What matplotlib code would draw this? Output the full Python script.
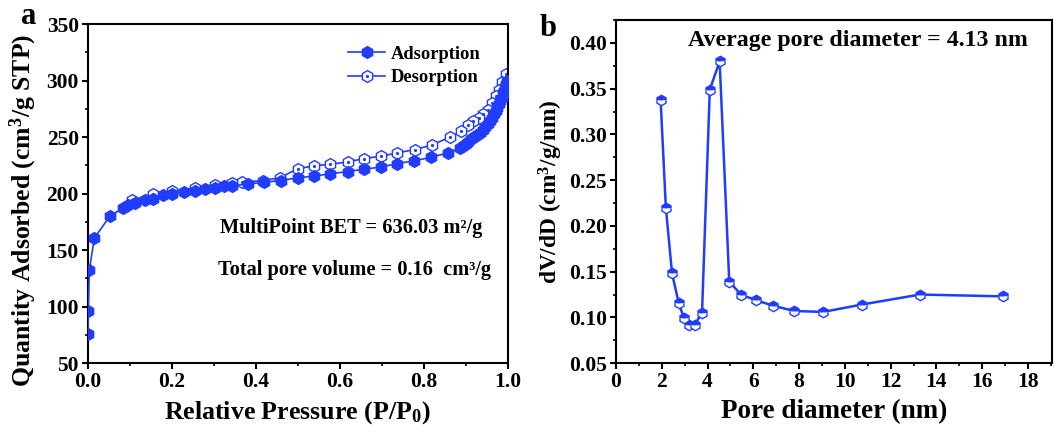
import numpy as np
import matplotlib
matplotlib.use("Agg")
import matplotlib.pyplot as plt
from matplotlib.ticker import MultipleLocator

plt.rcParams['font.family'] = ['Liberation Serif', 'DejaVu Serif']
plt.rcParams['font.weight'] = 'bold'
plt.rcParams['mathtext.fontset'] = 'custom'
plt.rcParams['mathtext.rm'] = 'Liberation Serif:bold'
plt.rcParams['mathtext.bf'] = 'Liberation Serif:bold'
plt.rcParams['mathtext.it'] = 'Liberation Serif:bold:italic'

BLUE = '#1f3cff'

# isotherm (panel a)
ads_p = [0.0, 0.001, 0.003, 0.015, 0.052, 0.084, 0.095, 0.112, 0.137, 0.155, 0.179,
         0.200, 0.228, 0.254, 0.278, 0.302, 0.324, 0.344, 0.381, 0.420, 0.459, 0.500,
         0.538, 0.578, 0.619, 0.658, 0.698, 0.737, 0.777, 0.817, 0.857,
         0.886, 0.893, 0.900, 0.907, 0.914, 0.921, 0.928, 0.935, 0.941, 0.947, 0.953,
         0.958, 0.963, 0.968, 0.972, 0.976, 0.980, 0.983, 0.986, 0.989, 0.992, 0.994,
         0.996, 0.998]
ads_q = [76, 96, 132, 160.5, 180, 187.5, 189.5, 191.5, 194.5, 195.5, 198.5,
         200, 201.5, 202.5, 204, 205, 206.5, 207, 208.5, 210, 211.5, 214,
         215.5, 217.5, 219.5, 221.5, 223.5, 226.5, 229, 232, 236,
         240, 242, 244, 246, 248, 250, 252, 254, 256.5, 259, 261.5,
         264, 267, 270, 273, 276, 279, 282, 285, 288, 291, 294,
         297, 300]
des_p = [0.997, 0.987, 0.980, 0.972, 0.964, 0.953, 0.941, 0.931, 0.918, 0.906, 0.890,
         0.863, 0.820, 0.780, 0.737, 0.698, 0.658, 0.619, 0.578, 0.538, 0.500, 0.457,
         0.416, 0.366, 0.344, 0.302, 0.254, 0.200, 0.155, 0.106]
des_q = [305.5, 299, 292, 286, 280, 274, 270, 267, 264, 261, 255,
         250, 243, 239, 236, 233, 231, 228, 226, 224.5, 222, 214,
         211.5, 210, 209, 208, 205, 202, 200, 194]

# pore size distribution (panel b)
pore_d = [1.95, 2.18, 2.45, 2.74, 2.97, 3.19, 3.44, 3.76, 4.10, 4.53, 4.95, 5.46,
          6.10, 6.84, 7.79, 9.05, 10.73, 13.28, 16.91]
dvdd = [0.338, 0.220, 0.148, 0.116, 0.099, 0.092, 0.092, 0.105, 0.349, 0.380, 0.139,
        0.125, 0.119, 0.113, 0.107, 0.106, 0.114, 0.125, 0.123]

fig = plt.figure(figsize=(10.54, 4.37), dpi=100)
ax1 = fig.add_axes([0.0835, 0.169, 0.398, 0.776])
ax2 = fig.add_axes([0.5844, 0.169, 0.4137, 0.785])

def style(ax):
    for s in ax.spines.values():
        s.set_linewidth(1.5)
    ax.tick_params(which='major', direction='out', length=4, width=1.5,
                   labelsize=15.5, top=False, right=False, pad=2.5)
    ax.tick_params(which='minor', direction='out', length=2.5, width=1.2,
                   top=False, right=False)
    for lab in ax.get_xticklabels() + ax.get_yticklabels():
        lab.set_fontweight('bold')

# panel a
l1, = ax1.plot(ads_p, ads_q, '-', color=BLUE, lw=1.2, marker='h', ms=8.5,
               mfc=BLUE, mec=BLUE, zorder=3)
l2, = ax1.plot(des_p, des_q, '-', color=BLUE, lw=1.2, marker='h', ms=8.5,
               mfc='white', mec=BLUE, mew=1.0, zorder=2)
d2, = ax1.plot(des_p, des_q, ls='none', marker='o', ms=1.3, color=BLUE, zorder=2.5)
ax1.set_xlim(0, 1.0)
ax1.set_ylim(50, 350)
ax1.xaxis.set_major_locator(MultipleLocator(0.2))
ax1.xaxis.set_minor_locator(MultipleLocator(0.1))
ax1.yaxis.set_major_locator(MultipleLocator(50))
ax1.yaxis.set_minor_locator(MultipleLocator(25))
ax1.xaxis.set_major_formatter(matplotlib.ticker.FormatStrFormatter('%.1f'))
style(ax1)
ax1.set_xlabel('Relative Pressure (P/P$_0$)', fontsize=18.6, fontweight='bold', labelpad=5)
ax1.set_ylabel('Quantity Adsorbed (cm$^3$/g STP)', fontsize=18.5, fontweight='bold')
ax1.yaxis.set_label_coords(-0.118, 0.45)
ax1.legend([l1, (l2, d2)], ['Adsorption', 'Desorption'], loc='upper right',
           bbox_to_anchor=(0.975, 0.985), frameon=False,
           handlelength=2.0, handletextpad=0.3, labelspacing=0.35,
           prop={'weight': 'bold', 'size': 13.3})
ax1.text(0.315, 170, 'MultiPoint BET = 636.03 m²/g', fontsize=14.7, fontweight='bold',
         va='center', ha='left')
ax1.text(0.31, 132, 'Total pore volume = 0.16  cm³/g', fontsize=14.7, fontweight='bold',
         va='center', ha='left')

# panel b
ax2.plot(pore_d, dvdd, '-', color=BLUE, lw=1.8, marker='h', ms=7.5,
         fillstyle='top', mfc=BLUE, mfcalt='white', mec=BLUE, mew=1.0)
ax2.set_xlim(0, 19.05)
ax2.set_ylim(0.05, 0.425)
ax2.xaxis.set_major_locator(MultipleLocator(2))
ax2.xaxis.set_minor_locator(MultipleLocator(1))
ax2.yaxis.set_major_locator(MultipleLocator(0.05))
ax2.yaxis.set_minor_locator(MultipleLocator(0.025))
ax2.yaxis.set_major_formatter(matplotlib.ticker.FormatStrFormatter('%.2f'))
style(ax2)
ax2.set_xlabel('Pore diameter (nm)', fontsize=19.5, fontweight='bold', labelpad=5)
ax2.set_ylabel('dV/dD (cm$^3$/g/nm)', fontsize=16.8, fontweight='bold', labelpad=3)
ax2.text(3.14, 0.403, 'Average pore diameter = 4.13 nm', fontsize=17.2, fontweight='bold',
         va='center', ha='left')

fig.text(0.027, 0.962, 'a', fontsize=22, fontweight='bold', va='center', ha='center')
fig.text(0.52, 0.935, 'b', fontsize=22, fontweight='bold', va='center', ha='center')

fig.savefig('out.png', dpi=100)
